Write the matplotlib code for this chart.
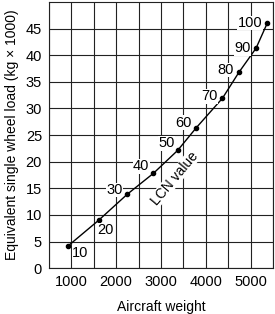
import numpy as np
import matplotlib.pyplot as plt

plt.rcParams['font.family'] = ['Liberation Sans', 'DejaVu Sans']

# LCN curve
lcn = [10, 20, 30, 40, 50, 60, 70, 80, 90, 100]
weight = [930, 1610, 2250, 2830, 3370, 3790, 4370, 4740, 5120, 5370]
load = [4.2, 9.0, 13.9, 17.8, 22.1, 26.4, 31.9, 36.8, 41.3, 46.0]

# label placement in pixels (dx, dy, ha) for each LCN tag
offs = [(4, -7, 'left'), (-1, -10, 'left'), (-5, 4, 'right'), (-4, 7, 'right'),
        (-3, 7, 'right'), (-5, 5, 'right'), (-5, 2, 'right'), (-5, 2, 'right'),
        (-5, 0, 'right'), (-5, 0, 'right')]

fig = plt.figure(figsize=(2.75, 3.14), dpi=100)
ax = fig.add_axes([0.178, 0.146, 0.815, 0.848])

ax.set_xlim(500, 5500)
ax.set_ylim(0, 50)
ax.set_xticks(np.arange(500, 5501, 500), minor=True)
ax.set_xticks([1000, 2000, 3000, 4000, 5000])
ax.set_yticks(np.arange(0, 46, 5))
ax.grid(True, which='both', color='#222222', lw=0.8)
ax.tick_params(which='both', length=0, labelsize=10.5, pad=5)
for s in ax.spines.values():
    s.set_color('#222222')
    s.set_linewidth(0.8)

ax.plot(weight, load, color='black', lw=1.0, marker='o', ms=3, zorder=3)
for v, x, y, (dx, dy, ha) in zip(lcn, weight, load, offs):
    ax.annotate(str(v), (x, y), xytext=(dx, dy), textcoords='offset pixels',
                fontsize=10.5, va='center', ha=ha,
                bbox=dict(fc='white', ec='none', pad=0.2))

ax.text(3300, 16.9, 'LCN value', rotation=50, fontsize=10, ha='center', va='center',
        bbox=dict(fc='white', ec='none', pad=0.2), zorder=2)

ax.set_xlabel('Aircraft weight', fontsize=10, labelpad=8)
ax.set_ylabel('Equivalent single wheel load (kg \u00d7 1000)', fontsize=10, labelpad=5)

fig.savefig('out.png', dpi=100)
